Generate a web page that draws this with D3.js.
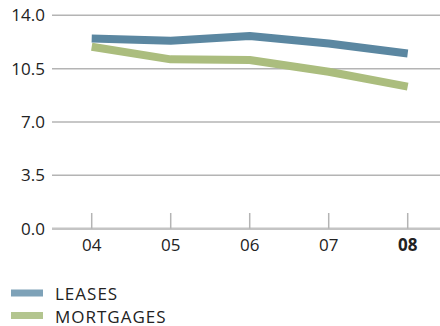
<!DOCTYPE html>
<html><head><meta charset="utf-8">
<script src="https://cdn.jsdelivr.net/npm/d3@7"></script>
<style>body{margin:0;background:#fff;} svg{display:block;}</style>
</head><body>
<svg id="c" width="440" height="326"></svg>
<script>
const categories = ["04","05","06","07","08"];
const leases = [12.48, 12.33, 12.64, 12.15, 11.5];
const mortgages = [11.94, 11.11, 11.07, 10.3, 9.32];
const yTicks = [0, 3.5, 7.0, 10.5, 14.0];
const seriesNames = ["LEASES","MORTGAGES"];
const colors = ["#5b87a1","#abbd7e"];

const svg = d3.select("#c");
const font = "'Open Sans', 'DejaVu Sans', sans-serif";
const x = d3.scalePoint().domain(categories).range([91.7, 407.7]);
const y = d3.scaleLinear().domain([0,14]).range([228.7, 15.3]);

// gridlines
svg.append("g").selectAll("line").data(yTicks).join("line")
  .attr("x1",52).attr("x2",440)
  .attr("y1",d=>y(d)).attr("y2",d=>y(d))
  .attr("stroke",d=>d===0?"#c4c4c4":"#b4b4b4")
  .attr("stroke-width",d=>d===0?2.5:1.5);

// y labels
svg.append("g").selectAll("text").data(yTicks).join("text")
  .attr("x",45).attr("y",d=>y(d)+6)
  .attr("text-anchor","end")
  .attr("font-family",font).attr("font-size",17).attr("fill","#222")
  .text(d=>d.toFixed(1));

// x ticks
svg.append("g").selectAll("line").data(categories).join("line")
  .attr("x1",d=>x(d)).attr("x2",d=>x(d))
  .attr("y1",213).attr("y2",y(0))
  .attr("stroke","#b4b4b4").attr("stroke-width",1.5);

svg.append("g").selectAll("text").data(categories).join("text")
  .attr("x",d=>x(d)).attr("y",251)
  .attr("text-anchor","middle")
  .attr("font-family",font).attr("font-size",17).attr("fill","#222")
  .attr("font-weight",(d,i)=>i===categories.length-1?"bold":"normal")
  .text(d=>d);

const line = d3.line().x((d,i)=>x(categories[i])).y(d=>y(d));
[mortgages, leases].forEach((s,k)=>{
  const ci = k===0?1:0;
  svg.append("path").datum(s).attr("d",line)
    .attr("fill","none").attr("stroke",colors[ci]).attr("stroke-width",8)
    .attr("stroke-linejoin","round").attr("stroke-linecap","butt");
});

// legend
const lg = svg.append("g").selectAll("g").data(seriesNames).join("g")
  .attr("transform",(d,i)=>`translate(0,${293+i*22.5})`);
lg.append("rect").attr("x",11).attr("y",-3.5).attr("width",32).attr("height",7)
  .attr("fill",(d,i)=>i===0?"#7ea2b8":"#b3c58f");
lg.append("text").attr("x",55).attr("y",7)
  .attr("font-family",font).attr("font-size",17).attr("fill","#222")
  .attr("letter-spacing",1)
  .text(d=>d);
</script>
</body></html>
